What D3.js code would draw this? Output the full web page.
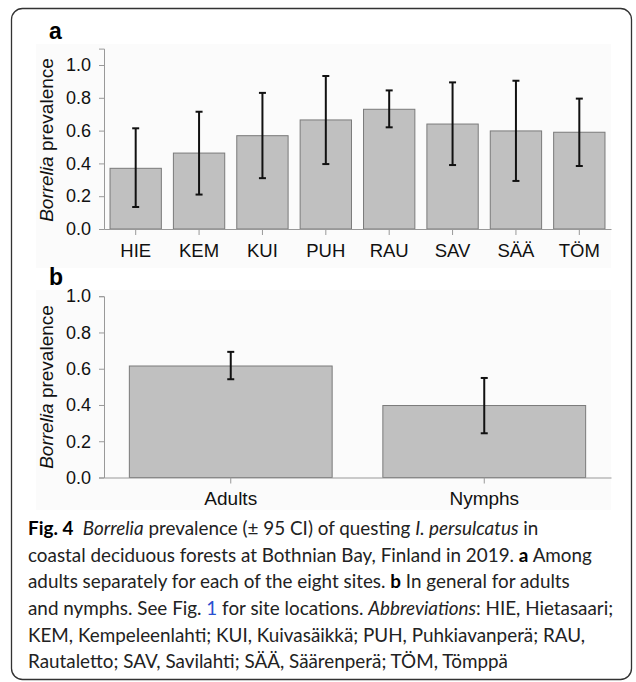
<!DOCTYPE html>
<html>
<head>
<meta charset="utf-8">
<script src="https://cdn.jsdelivr.net/npm/d3@7"></script>
<style>
  body { margin: 0; background: #fff; }
  svg text { font-family: "Liberation Sans", Arial, sans-serif; }
  .cap text { font-family: Lato, "Noto Sans", sans-serif; }
</style>
</head>
<body>
<div id="chart"></div>
<script>
// panel a: sites
var sites = ["HIE", "KEM", "KUI", "PUH", "RAU", "SAV", "SÄÄ", "TÖM"];
var sitePrev = [0.37, 0.463, 0.569, 0.665, 0.73, 0.64, 0.598, 0.59];
var siteLow = [0.134, 0.21, 0.31, 0.396, 0.62, 0.39, 0.293, 0.384];
var siteHigh = [0.614, 0.715, 0.83, 0.933, 0.845, 0.894, 0.904, 0.795];

// panel b: stages
var stages = ["Adults", "Nymphs"];
var stagePrev = [0.615, 0.397];
var stageLow = [0.542, 0.244];
var stageHigh = [0.693, 0.549];

var yTicks = [0, 0.2, 0.4, 0.6, 0.8, 1.0];

var W = 636, H = 682;
var svg = d3.select("#chart").append("svg")
  .attr("width", W)
  .attr("height", H);

// outer frame
svg.append("rect")
  .attr("x", 11.5).attr("y", 8.5)
  .attr("width", 620).attr("height", 671)
  .attr("rx", 11).attr("ry", 11)
  .attr("fill", "none")
  .attr("stroke", "#333")
  .attr("stroke-width", 1.3);

function drawPanel(opts) {
  var g = svg.append("g");
  var data = opts.cats.map(function(c, i) {
    return { name: c, v: opts.vals[i], lo: opts.lo[i], hi: opts.hi[i] };
  });

  // faint figure background
  g.append("rect")
    .attr("x", 36).attr("y", opts.bgTop)
    .attr("width", 575).attr("height", opts.bgH)
    .attr("fill", "#fbfbfb");

  var x = d3.scaleBand()
    .domain(opts.cats)
    .range([104, 611])
    .paddingInner(opts.pad)
    .paddingOuter(opts.pad / 2);

  var y = d3.scaleLinear()
    .domain([0, opts.yMax])
    .range([opts.y0, opts.y0 - opts.pxPerUnit * opts.yMax]);

  // bars
  g.selectAll(".bar")
    .data(data)
    .enter()
    .append("rect")
    .attr("class", "bar")
    .attr("x", function(d) { return x(d.name); })
    .attr("y", function(d) { return y(d.v); })
    .attr("width", x.bandwidth())
    .attr("height", function(d) { return y(0) - y(d.v); })
    .attr("fill", "#c0c0c0")
    .attr("stroke", "#7a7a7a")
    .attr("stroke-width", 1);

  // error bars
  var eb = g.selectAll(".err")
    .data(data)
    .enter()
    .append("g")
    .attr("class", "err")
    .attr("stroke", "#111")
    .attr("stroke-width", 2);
  eb.append("line")
    .attr("x1", function(d) { return x(d.name) + x.bandwidth() / 2; })
    .attr("x2", function(d) { return x(d.name) + x.bandwidth() / 2; })
    .attr("y1", function(d) { return y(d.lo); })
    .attr("y2", function(d) { return y(d.hi); });
  ["lo", "hi"].forEach(function(k) {
    eb.append("line")
      .attr("x1", function(d) { return x(d.name) + x.bandwidth() / 2 - 3.5; })
      .attr("x2", function(d) { return x(d.name) + x.bandwidth() / 2 + 3.5; })
      .attr("y1", function(d) { return y(d[k]); })
      .attr("y2", function(d) { return y(d[k]); });
  });

  // y axis with minor ticks
  var minor = d3.range(0, Math.round(opts.yMax * 10) + 1).map(function(i) { return i / 10; });
  var yAxisMinor = d3.axisLeft(y).tickValues(minor).tickSize(3).tickFormat("");
  var yAxis = d3.axisLeft(y).tickValues(yTicks).tickSize(5).tickPadding(8)
    .tickFormat(d3.format(".1f"));

  var ga = g.append("g").attr("transform", "translate(104,0)");
  ga.call(yAxisMinor);
  ga.call(yAxis);
  ga.selectAll("path.domain").attr("stroke", "#999");
  ga.selectAll(".tick line").attr("stroke", "#999");
  ga.selectAll(".tick text")
    .attr("fill", "#111")
    .style("font-size", "18px");

  // x axis
  var gx = g.append("g").attr("transform", "translate(0," + opts.y0 + ")")
    .call(d3.axisBottom(x).tickSize(6).tickSizeOuter(0).tickPadding(6));
  gx.select("path.domain").attr("stroke", "#999");
  gx.selectAll(".tick line").attr("stroke", "#999");
  gx.selectAll(".tick text")
    .attr("fill", "#111")
    .attr("y", null).attr("dy", null)
    .attr("transform", "translate(0," + opts.xLabY + ")")
    .style("font-size", opts.xFont + "px");

  // y title
  var t = g.append("text")
    .attr("transform", "translate(53," + opts.titleY + ") rotate(-90)")
    .attr("text-anchor", "middle")
    .attr("fill", "#111")
    .style("font-size", "19px");
  t.append("tspan").style("font-style", "italic").text("Borrelia");
  t.append("tspan").text(" prevalence");

  // panel letter
  g.append("text")
    .attr("x", 49).attr("y", opts.letterY)
    .attr("fill", "#000")
    .style("font-size", "23px")
    .style("font-weight", "bold")
    .text(opts.letter);
}

drawPanel({
  cats: sites, vals: sitePrev, lo: siteLow, hi: siteHigh,
  yMax: 1.1, y0: 229, pxPerUnit: 164, pad: 0.19,
  titleY: 140, letter: "a", letterY: 39, xLabY: 28, xFont: 18.5,
  bgTop: 44, bgH: 224
});

drawPanel({
  cats: stages, vals: stagePrev, lo: stageLow, hi: stageHigh,
  yMax: 1.0, y0: 477.5, pxPerUnit: 181.3, pad: 0.2,
  titleY: 387, letter: "b", letterY: 285, xLabY: 27.5, xFont: 19,
  bgTop: 290, bgH: 220
});

// caption
var capLines = [
  [["b", "Fig. 4"], ["n", "\u2002"], ["i", "Borrelia"], ["n", " prevalence (\u00b1 95 CI) of questing "], ["i", "I. persulcatus"], ["n", " in"]],
  [["n", "coastal deciduous forests at Bothnian Bay, Finland in 2019. "], ["b", "a"], ["n", " Among"]],
  [["n", "adults separately for each of the eight sites. "], ["b", "b"], ["n", " In general for adults"]],
  [["n", "and nymphs. See Fig. "], ["l", "1"], ["n", " for site locations. "], ["i", "Abbreviations"], ["n", ": HIE, Hietasaari;"]],
  [["n", "KEM, Kempeleenlahti; KUI, Kuivasäikkä; PUH, Puhkiavanperä; RAU,"]],
  [["n", "Rautaletto; SAV, Savilahti; SÄÄ, Säärenperä; TÖM, Tömppä"]]
];
var capBase = [535, 561.7, 588.3, 615, 642, 668.3];
var capRight = [559, 561, 583, 626, 574, 504];

var cap = svg.append("g").attr("class", "cap");
var capTexts = [];
capLines.forEach(function(line, i) {
  var tx = cap.append("text")
    .attr("x", 28).attr("y", capBase[i])
    .attr("fill", "#222")
    .style("font-size", "18.5px");
  line.forEach(function(seg) {
    var s = tx.append("tspan").text(seg[1]);
    if (seg[0] === "b") s.style("font-weight", "bold").attr("fill", "#000");
    if (seg[0] === "i") s.style("font-style", "italic");
    if (seg[0] === "l") s.attr("fill", "#2a4fd0");
  });
  capTexts.push(tx);
});
// one font size for the whole caption, so lines keep their widths on average
var ratio = d3.mean(capTexts, function(tx, i) {
  return (capRight[i] - 28) / tx.node().getComputedTextLength();
});
capTexts.forEach(function(tx) {
  tx.style("font-size", Math.min(20.5, 18.5 * ratio) + "px");
});
</script>
</body>
</html>
